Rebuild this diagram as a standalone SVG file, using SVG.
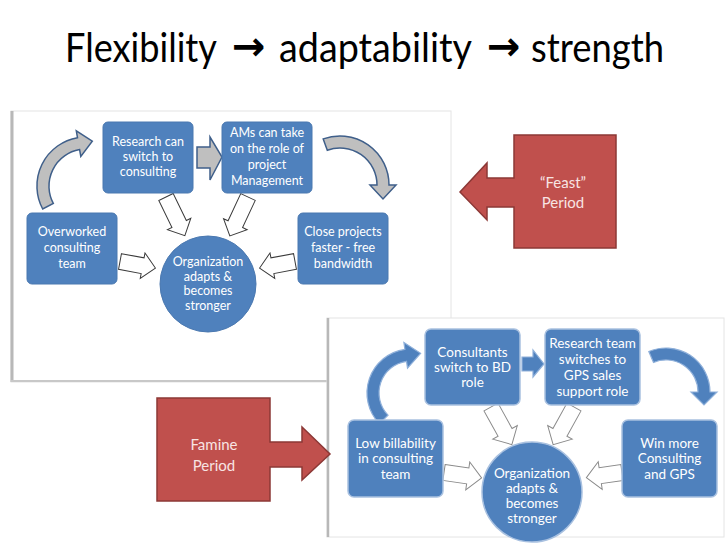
<svg xmlns="http://www.w3.org/2000/svg" width="728" height="546" viewBox="0 0 728 546">
<style>
.title{font-family:Lato,"Open Sans","Liberation Sans",sans-serif;font-size:40px;fill:#000}
.tarrow{font-family:"DejaVu Sans",sans-serif;font-size:40px;font-weight:bold;fill:#000}
.n1{fill:#4F81BD;stroke:#4A78B0;stroke-width:1}
.n2{fill:#4F81BD;stroke:#A9C1E0;stroke-width:1.5}
.t1{font-family:Lato,"Open Sans","Liberation Sans",sans-serif;font-size:12.5px;fill:#fff;text-anchor:middle}
.t2{font-family:Lato,"Open Sans","Liberation Sans",sans-serif;font-size:13.5px;fill:#fff;text-anchor:middle}
.tr{font-family:Lato,"Open Sans","Liberation Sans",sans-serif;font-size:15px;fill:#F8E4E3;text-anchor:middle}
.oa1{fill:#fff;stroke:#3a3a3a;stroke-width:1}
.oa2{fill:#fff;stroke:#8a8a8a;stroke-width:1}
.ga{fill:#BFBFBF;stroke:#3F5F8A;stroke-width:1.5}
.ba{fill:#4F81BD;stroke:#8FB0DA;stroke-width:1.2}
.red{fill:#C0504D;stroke:#8C3836;stroke-width:1.5}
</style>
<rect width="728" height="546" fill="#fff"/>
<g id="title">
<text class="title" x="65" y="62" textLength="152" lengthAdjust="spacingAndGlyphs">Flexibility</text>
<text class="tarrow" x="232" y="60">→</text>
<text class="title" x="279" y="62" textLength="193" lengthAdjust="spacingAndGlyphs">adaptability</text>
<text class="tarrow" x="487" y="60">→</text>
<text class="title" x="531" y="62" textLength="133" lengthAdjust="spacingAndGlyphs">strength</text>
</g>

<g id="panel1">
<rect x="11" y="111" width="440" height="271" fill="#fff" stroke="#e4e4e4" stroke-width="1"/>
<line x1="12" y1="111" x2="12" y2="382" stroke="#b8b8b8" stroke-width="3"/>
<line x1="11" y1="381" x2="451" y2="381" stroke="#c8c8c8" stroke-width="2"/>
</g>

<g id="connectors1">
<path class="ga" d="M42.7,209 A49,49 0 0 1 77.5,137.7 L76.3,130.9 L92.3,141.2 L80.8,156.5 L79.6,149.6 A37,37 0 0 0 53.3,203.4 Z"/>
<path class="ga" d="M323.2,138.9 A49,49 0 0 1 389,185 L396,185 L383,199 L370,185 L377,185 A37,37 0 0 0 327.3,150.2 Z"/>
<path class="ga" d="M197,147 H210 V137 L222,157 L210,180 V168 H197 Z"/>
<path class="oa1" transform="translate(166,197) rotate(64)" d="M0,-8 H30 V-13 L43,0 L30,13 V8 H0 Z"/>
<path class="oa1" transform="translate(248,197) rotate(115)" d="M0,-8 H30 V-13 L43,0 L30,13 V8 H0 Z"/>
<path class="oa1" transform="translate(120,261.5) rotate(10.5)" d="M0,-8 H23 V-13 L36,0 L23,13 V8 H0 Z"/>
<path class="oa1" transform="translate(295,261.5) rotate(169.5)" d="M0,-8 H23 V-13 L36,0 L23,13 V8 H0 Z"/>
</g>

<g id="research1"><rect class="n1" x="103" y="122" width="90" height="71" rx="5"/>
<text class="t1" x="148" y="146">Research can</text><text class="t1" x="148" y="161">switch to</text><text class="t1" x="148" y="176">consulting</text></g>
<g id="ams1"><rect class="n1" x="222" y="122" width="90" height="71" rx="5"/>
<text class="t1" x="267" y="137">AMs can take</text><text class="t1" x="267" y="153">on the role of</text><text class="t1" x="267" y="169">project</text><text class="t1" x="267" y="185">Management</text></g>
<g id="overworked1"><rect class="n1" x="27" y="213" width="90" height="71" rx="5"/>
<text class="t1" x="72" y="236">Overworked</text><text class="t1" x="72" y="252">consulting</text><text class="t1" x="72" y="268">team</text></g>
<g id="close1"><rect class="n1" x="298" y="213" width="90" height="71" rx="5"/>
<text class="t1" x="343" y="236">Close projects</text><text class="t1" x="343" y="252">faster - free</text><text class="t1" x="343" y="268">bandwidth</text></g>
<g id="org1"><circle class="n1" cx="208" cy="284" r="48"/>
<text class="t1" x="208" y="266">Organization</text><text class="t1" x="208" y="281">adapts &amp;</text><text class="t1" x="208" y="295">becomes</text><text class="t1" x="208" y="310">stronger</text></g>

<g id="feast"><path class="red" d="M514,135 H616 V248 H514 V207 H487 V220 L460,192 L487,163 V178 H514 Z"/>
<text class="tr" x="563" y="188">“Feast”</text><text class="tr" x="563" y="208">Period</text></g>

<g id="panel2">
<rect x="327" y="318" width="397" height="219" fill="#fff" stroke="#e4e4e4" stroke-width="1"/>
<line x1="328" y1="318" x2="328" y2="537" stroke="#b8b8b8" stroke-width="2.5"/>
</g>

<g id="connectors2">
<path class="ba" d="M379.4,423.6 A44,44 0 0 1 404.9,349.4 L403.9,342.5 L420.6,353.3 L407.5,368.2 L406.5,361.3 A32,32 0 0 0 388,415.2 Z"/>
<path class="ba" d="M648.8,351.5 A44,44 0 0 1 710,392 L717,392 L704,405 L691,392 L698,392 A32,32 0 0 0 653.5,362.5 Z"/>
<path class="ba" d="M522,357 H533 V350 L544,364 L533,377 V371 H522 Z"/>
<path class="oa2" transform="translate(491,407) rotate(61)" d="M0,-8 H29 V-14 L43,0 L29,14 V8 H0 Z"/>
<path class="oa2" transform="translate(574,407) rotate(119)" d="M0,-8 H29 V-14 L43,0 L29,14 V8 H0 Z"/>
<path class="oa2" transform="translate(444,472.5) rotate(8.2)" d="M0,-8 H24 V-14 L38,0 L24,14 V8 H0 Z"/>
<path class="oa2" transform="translate(622,472.5) rotate(171.8)" d="M0,-8 H22 V-14 L36,0 L22,14 V8 H0 Z"/>
</g>

<g id="consultants2"><rect class="n2" x="425" y="329" width="95" height="76" rx="6"/>
<text class="t2" x="472.5" y="357">Consultants</text><text class="t2" x="472.5" y="372">switch to BD</text><text class="t2" x="472.5" y="387">role</text></g>
<g id="researchteam2"><rect class="n2" x="545" y="329" width="95" height="76" rx="6"/>
<text class="t2" x="592.5" y="348">Research team</text><text class="t2" x="592.5" y="364">switches to</text><text class="t2" x="592.5" y="380">GPS sales</text><text class="t2" x="592.5" y="396">support role</text></g>
<g id="low2"><rect class="n2" x="348" y="420" width="95" height="77" rx="6"/>
<text class="t2" x="395.5" y="448">Low billability</text><text class="t2" x="395.5" y="463">in consulting</text><text class="t2" x="395.5" y="479">team</text></g>
<g id="win2"><rect class="n2" x="622" y="420" width="95" height="77" rx="6"/>
<text class="t2" x="669.5" y="448">Win more</text><text class="t2" x="669.5" y="463">Consulting</text><text class="t2" x="669.5" y="479">and GPS</text></g>
<g id="org2"><circle class="n2" cx="532" cy="492" r="50"/>
<text class="t2" x="532" y="478">Organization</text><text class="t2" x="532" y="493">adapts &amp;</text><text class="t2" x="532" y="508">becomes</text><text class="t2" x="532" y="523">stronger</text></g>

<g id="famine"><path class="red" d="M157,398 H270 V442 H302 V427 L330,454 L302,480 V467 H270 V501 H157 Z"/>
<text class="tr" x="214" y="450">Famine</text><text class="tr" x="214" y="471">Period</text></g>
</svg>
